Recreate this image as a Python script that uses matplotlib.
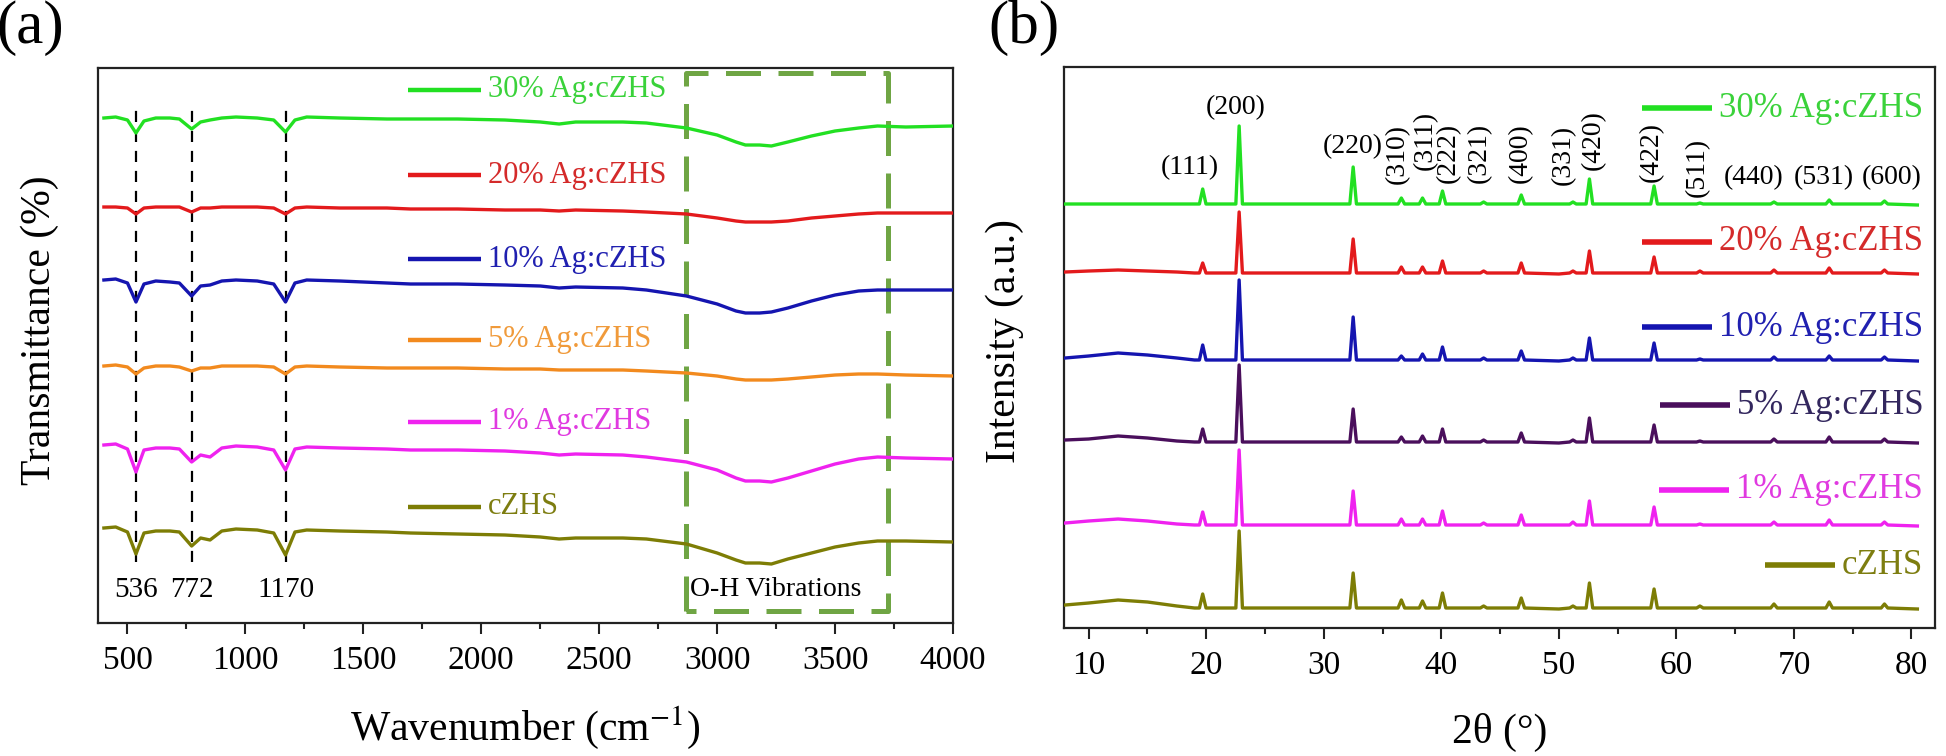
import numpy as np
import matplotlib
matplotlib.use("Agg")
import matplotlib.pyplot as plt
from matplotlib.ticker import MultipleLocator

plt.rcParams['font.family'] = ['Liberation Serif', 'DejaVu Serif']
plt.rcParams['mathtext.fontset'] = 'stix'

# ---------------- FTIR data (panel a) ----------------
ftir_x = [400, 450, 500, 536, 570, 620, 680, 720, 772, 810, 850, 900, 960, 1050,
          1120, 1170, 1210, 1260, 1400, 1600, 1700, 1900, 2100, 2250, 2330, 2400,
          2600, 2700, 2870, 3000, 3080, 3120, 3180, 3230, 3300, 3400, 3500, 3600,
          3680, 3800, 4000]
ftir_30 = [0, 1, -2, -15, -3, 0, 0, -1, -11, -4, -2, 0, 1, 0, -2, -14, -2, 1, 0, -1,
           -1, -1, -2, -4, -6, -4, -4, -5, -10, -17, -24, -27, -27, -28, -24, -18, -13,
           -10, -8, -9, -8]
ftir_20 = [0, 0, -1, -7, -1, 0, 0, 0, -5, -1, -1, 0, 0, 0, -1, -7, -1, 0, -1, -1, -2,
           -2, -3, -3, -4, -3, -4, -5, -7, -11, -14, -15, -15, -15, -14, -11, -9, -7,
           -6, -6, -6]
ftir_10 = [0, 1, -3, -22, -4, -1, -2, -3, -16, -6, -5, -1, 0, -1, -4, -22, -3, 0, -1,
           -3, -4, -4, -5, -6, -8, -7, -8, -10, -16, -24, -31, -33, -33, -32, -28, -21,
           -15, -11, -10, -10, -10]
ftir_5 = [0, 1, -1, -8, -2, 0, 0, -1, -5, -2, -2, 0, 0, 0, -1, -8, -1, 0, -1, -2, -2,
          -2, -3, -3, -4, -4, -4, -5, -7, -10, -13, -14, -14, -14, -13, -11, -9, -8,
          -8, -9, -10]
ftir_1 = [0, 1, -4, -27, -5, -3, -3, -4, -17, -10, -12, -3, -1, -2, -5, -25, -4, -2,
          -3, -4, -5, -5, -6, -8, -10, -9, -10, -12, -17, -25, -33, -36, -36, -37, -33,
          -26, -19, -14, -12, -13, -14]
ftir_0 = [0, 1, -4, -26, -5, -3, -3, -4, -18, -10, -12, -3, -1, -2, -5, -27, -4, -2,
          -3, -4, -5, -6, -7, -9, -11, -10, -10, -11, -16, -25, -32, -35, -35, -36, -31,
          -25, -19, -15, -13, -13, -14]
ftir_series = [ftir_30, ftir_20, ftir_10, ftir_5, ftir_1, ftir_0]
ftir_labels = ['30% Ag:cZHS', '20% Ag:cZHS', '10% Ag:cZHS', '5% Ag:cZHS',
               '1% Ag:cZHS', 'cZHS']
ftir_colors = ['#22e022', '#e31a1c', '#1515b0', '#f28a1e', '#ef22ef', '#7d7d05']
ftir_text_colors = ['#3ad23a', '#d42a2a', '#2020b0', '#f09a3a', '#e03ae0', '#7d7d10']
band_positions = [536, 772, 1170]
band_labels = ['536', '772', '1170']

# ---------------- XRD data (panel b) ----------------
hkl_labels = ['(111)', '(200)', '(220)', '(310)', '(311)', '(222)', '(321)', '(400)',
              '(331)', '(420)', '(422)', '(511)', '(440)', '(531)', '(600)']
peak_pos = [19.7, 22.8, 32.5, 36.6, 38.4, 40.1, 43.6, 46.8, 51.2, 52.6, 58.1, 62.0,
            68.3, 73.0, 77.7]
xrd_30 = [15, 78, 37, 6, 6, 13, 2, 9, 2, 25, 18, 1, 2, 4, 3]
xrd_20 = [10, 61, 34, 6, 6, 12, 2, 10, 2, 22, 16, 2, 3, 5, 3]
xrd_10 = [15, 80, 43, 4, 6, 13, 2, 9, 2, 22, 17, 1, 3, 4, 3]
xrd_5 = [13, 77, 33, 5, 6, 13, 2, 9, 2, 24, 17, 1, 3, 5, 3]
xrd_1 = [13, 75, 34, 6, 6, 14, 2, 10, 3, 24, 18, 1, 3, 5, 3]
xrd_0 = [14, 77, 35, 8, 7, 15, 2, 10, 2, 25, 19, 2, 4, 6, 4]
bg_x = [8, 10, 12.5, 15, 17.5, 19.0, 30, 50, 80.5]
bg_30 = [0, 0, 0, 0, 0, 0, 0, 0, -1]
bg_20 = [1, 2, 3, 2, 1, 0, 0, -1, -1]
bg_10 = [2, 4, 7, 5, 2, 0, 0, -1, -1]
bg_5 = [2, 3, 6, 4, 1, 0, 0, -1, -1]
bg_1 = [2, 4, 6, 4, 1, 0, 0, 0, -1]
bg_0 = [3, 5, 8, 6, 2, 0, 0, -1, -1]
xrd_series = [xrd_30, xrd_20, xrd_10, xrd_5, xrd_1, xrd_0]
xrd_bgs = [bg_30, bg_20, bg_10, bg_5, bg_1, bg_0]
xrd_labels = ['30% Ag:cZHS', '20% Ag:cZHS', '10% Ag:cZHS', '5% Ag:cZHS',
              '1% Ag:cZHS', 'cZHS']
xrd_colors = ['#22e022', '#e31a1c', '#1515b0', '#4a0f5c', '#ef22ef', '#7d7d05']
xrd_text_colors = ['#3ad23a', '#d42a2a', '#2020b0', '#33275e', '#e03ae0', '#7d7d10']

# ---------------- figure ----------------
W, H = 1946, 756
fig = plt.figure(figsize=(W / 100, H / 100), dpi=100)


def axrect(l, t, r, b):
    return [l / W, 1 - b / H, (r - l) / W, (b - t) / H]


ax1 = fig.add_axes(axrect(98, 68, 953, 623))
ax2 = fig.add_axes(axrect(1064, 67, 1935, 628))

for ax in (ax1, ax2):
    for s in ax.spines.values():
        s.set_linewidth(1.6)
        s.set_color('#222222')
    ax.tick_params(axis='x', which='major', direction='out', length=8, width=1.5,
                   labelsize=24, pad=8, color='#222222')
    ax.tick_params(axis='x', which='minor', direction='out', length=4.5, width=1.5,
                   color='#222222')
    ax.set_yticks([])

# ---- panel a ----
offsets_a = [505, 416, 343, 257, 178, 95]   # baseline heights (px above bottom spine)
label_y_a = [533, 448, 364, 283, 201, 116]
ax1.set_xlim(375, 4000)
ax1.set_ylim(0, 555)
ax1.xaxis.set_major_locator(MultipleLocator(500))
ax1.xaxis.set_minor_locator(MultipleLocator(250))

for vals, off, col, lab, ly, tcol in zip(ftir_series, offsets_a, ftir_colors,
                                         ftir_labels, label_y_a, ftir_text_colors):
    ax1.plot(ftir_x, np.array(vals) + off, color=col, lw=2.4, zorder=3)
    ax1.plot([1690, 2000], [ly, ly], color=col, lw=3.2, solid_capstyle='butt')
    ax1.text(2030, ly, lab, color=tcol, fontsize=22, va='center', ha='left')

for bp, bl in zip(band_positions, band_labels):
    ax1.plot([bp, bp], [61, 520], color='black', lw=1.6, dashes=(5, 4), zorder=2)
    ax1.text(bp, 33, bl, fontsize=21, ha='center', va='center')

ax1.plot([2866, 2866, 3726, 3726, 2866], [12, 550, 550, 12, 12], color='#6fa544',
         lw=3.6, dashes=(7, 3.5), zorder=1)
ax1.text(2885, 33, 'O-H Vibrations', fontsize=20, ha='left', va='center')

# ---- panel b ----
offsets_b = [424, 355, 268, 186, 103, 20]
label_y_b = [520, 386, 301, 223, 138, 63]
ax2.set_xlim(7.9, 82)
ax2.set_ylim(0, 561)
ax2.xaxis.set_major_locator(MultipleLocator(10))
ax2.xaxis.set_minor_locator(MultipleLocator(5))

half_w = 0.28
for heights, bg, off, col in zip(xrd_series, xrd_bgs, offsets_b, xrd_colors):
    pts = list(zip(bg_x, bg))
    for p, h in zip(peak_pos, heights):
        pts += [(p - half_w, 0), (p, h), (p + half_w, 0)]
    pts.sort()
    xs = [q[0] for q in pts]
    ys = [q[1] + off for q in pts]
    ax2.plot(xs, ys, color=col, lw=2.4, zorder=3)

fig.canvas.draw()
renderer = fig.canvas.get_renderer()
inv = ax2.transData.inverted()
line_len_px = 70
gap_px = 7
for lab, ly, col, tcol in zip(xrd_labels, label_y_b, xrd_colors, xrd_text_colors):
    t = ax2.text(81.0, ly, lab, color=tcol, fontsize=25, ha='right', va='center')
    bb = t.get_window_extent(renderer=renderer)
    x_end = inv.transform((bb.x0 - gap_px, 0))[0]
    x_start = inv.transform((bb.x0 - gap_px - line_len_px, 0))[0]
    ax2.plot([x_start, x_end], [ly, ly], color=col, lw=4, solid_capstyle='butt')

hkl_x = [18.6, 22.5, 32.5, 36.3, 38.6, 40.6, 43.2, 46.7, 50.4, 52.9, 57.9, 61.8,
         66.6, 72.5, 78.3]
hkl_y = [460, 520, 481, 474, 488, 475, 475, 475, 473, 488, 476, 461, 450, 450, 450]
hkl_rot = [0, 0, 0, 90, 90, 90, 90, 90, 90, 90, 90, 90, 0, 0, 0]
for lab, x, y, r in zip(hkl_labels, hkl_x, hkl_y, hkl_rot):
    ax2.text(x, y, lab, fontsize=20, rotation=r, ha='center', va='center')

# ---- labels ----
fig.text(40 / W, 1 - 330 / H, 'Transmittance (%)', rotation=90, fontsize=30,
         ha='center', va='center')
fig.text(525 / W, 1 - 728 / H, 'Wavenumber (cm$^{-1}$)', fontsize=30,
         ha='center', va='center')
fig.text(1005 / W, 1 - 341 / H, 'Intensity (a.u.)', rotation=90, fontsize=30,
         ha='center', va='center')
fig.text(1500 / W, 1 - 732 / H, '2θ (°)', fontsize=30, ha='center', va='center')
fig.text(30 / W, 1 - 28 / H, '(a)', fontsize=44, ha='center', va='center')
fig.text(1024 / W, 1 - 28 / H, '(b)', fontsize=44, ha='center', va='center')

fig.savefig('out.png', dpi=100)
